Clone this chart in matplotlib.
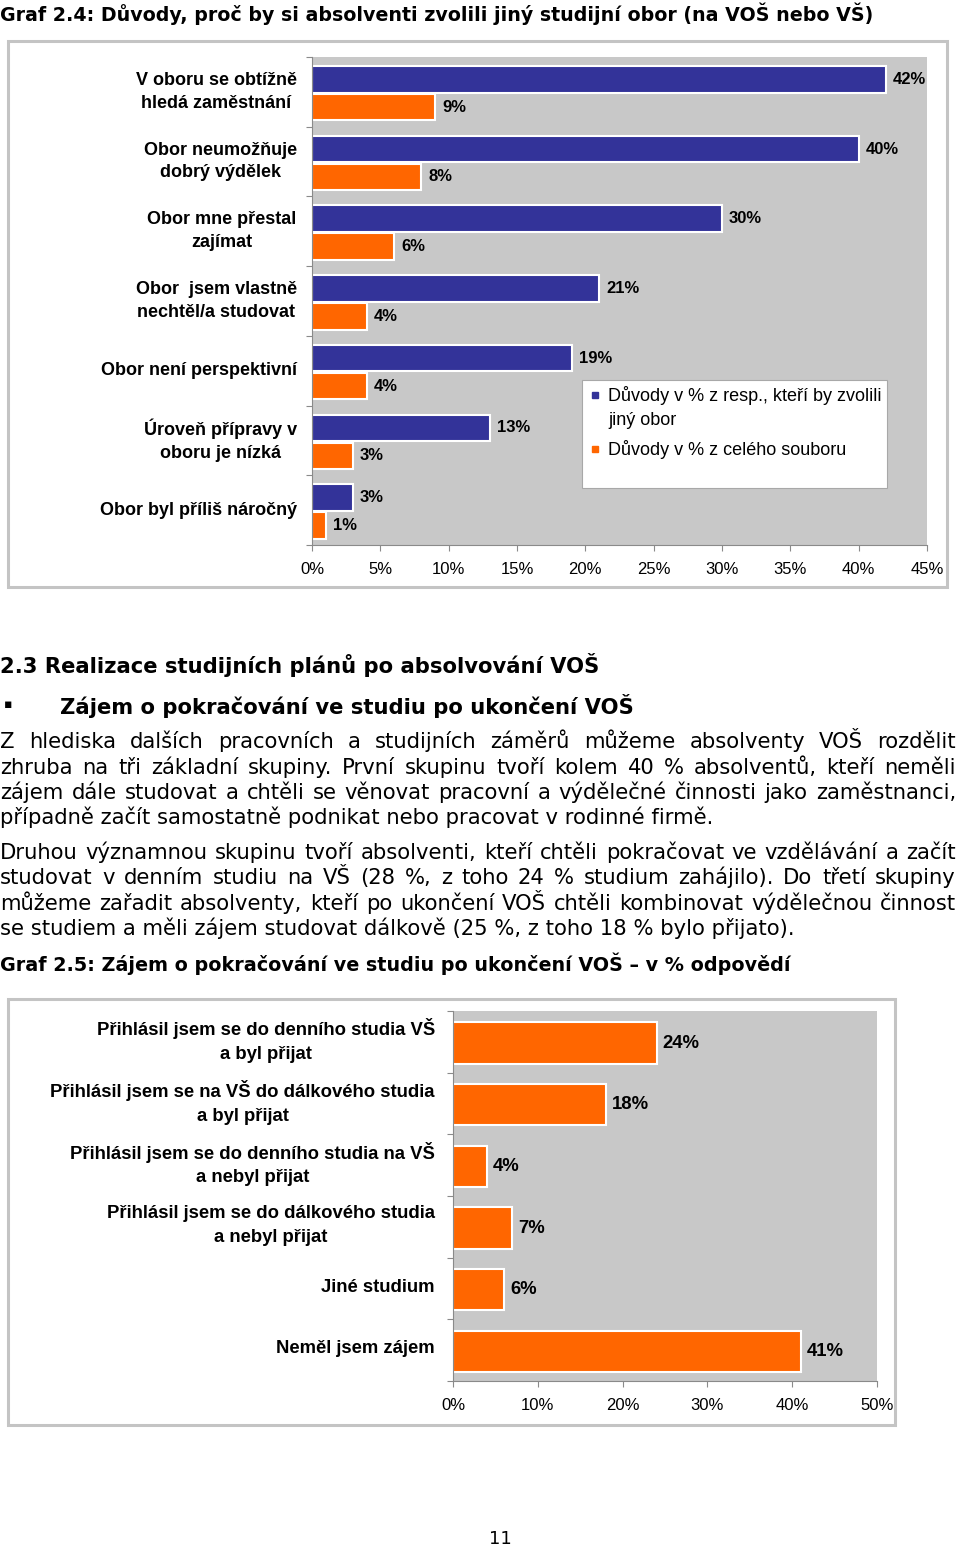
import numpy as np
import matplotlib
matplotlib.use('Agg')
import matplotlib.pyplot as plt
from matplotlib.patches import Rectangle
from matplotlib.lines import Line2D

# graf 2.4
reasons = ["V oboru se obtížně\nhledá zaměstnání", "Obor neumožňuje\ndobrý výdělek",
           "Obor mne přestal\nzajímat", "Obor  jsem vlastně\nnechtěl/a studovat",
           "Obor není perspektivní", "Úroveň přípravy v\noboru je nízká",
           "Obor byl příliš náročný"]
pct_resp = [42, 40, 30, 21, 19, 13, 3]
pct_all = [9, 8, 6, 4, 4, 3, 1]
legend_labels = ["Důvody v % z resp., kteří by zvolili\njiný obor", "Důvody v % z celého souboru"]
ticks1 = [0, 5, 10, 15, 20, 25, 30, 35, 40, 45]

# graf 2.5
plans = ["Přihlásil jsem se do denního studia VŠ\na byl přijat",
         "Přihlásil jsem se na VŠ do dálkového studia\na byl přijat",
         "Přihlásil jsem se do denního studia na VŠ\na nebyl přijat",
         "Přihlásil jsem se do dálkového studia\na nebyl přijat",
         "Jiné studium", "Neměl jsem zájem"]
pct_plans = [24, 18, 4, 7, 6, 41]
ticks2 = [0, 10, 20, 30, 40, 50]

title1 = "Graf 2.4: Důvody, proč by si absolventi zvolili jiný studijní obor (na VOŠ nebo VŠ)"
title2 = "Graf 2.5: Zájem o pokračování ve studiu po ukončení VOŠ – v % odpovědí"
head = "2.3 Realizace studijních plánů po absolvování VOŠ"
subhead = "Zájem o pokračování ve studiu po ukončení VOŠ"
para1 = ["Z hlediska dalších pracovních a studijních záměrů můžeme absolventy VOŠ rozdělit",
         "zhruba na tři základní skupiny. První skupinu tvoří kolem 40 % absolventů, kteří neměli",
         "zájem dále studovat a chtěli se věnovat pracovní a výdělečné činnosti jako zaměstnanci,",
         "případně začít samostatně podnikat nebo pracovat v rodinné firmě."]
para2 = ["Druhou významnou skupinu tvoří absolventi, kteří chtěli pokračovat ve vzdělávání a začít",
         "studovat v denním studiu na VŠ (28 %, z toho 24 % studium zahájilo). Do třetí skupiny",
         "můžeme zařadit absolventy, kteří po ukončení VOŠ chtěli kombinovat výdělečnou činnost",
         "se studiem a měli zájem studovat dálkově (25 %, z toho 18 % bylo přijato)."]

BLUE = '#333399'
ORANGE = '#ff6600'
BG = '#c8c8c8'
FRAME = '#c4c4c4'
AXC = '#8a8a8a'

plt.rcParams['font.family'] = ['Liberation Sans', 'DejaVu Sans']

W, H = 960, 1547
fig = plt.figure(figsize=(W / 100, H / 100), dpi=100)
r = fig.canvas.get_renderer()


def fx(x):
    return x / W


def fy(y):
    return 1 - y / H


def box(x0, y0, x1, y1, **kw):
    fig.patches.append(Rectangle((fx(x0), fy(y1)), (x1 - x0) / W, (y1 - y0) / H,
                                 transform=fig.transFigure, **kw))


def axes_px(x0, y0, x1, y1):
    return fig.add_axes([fx(x0), fy(y1), (x1 - x0) / W, (y1 - y0) / H])


def fit(x, y, s, width, size=12, **kw):
    t = fig.text(fx(x), fy(y), s, fontsize=size, va='baseline', family='DejaVu Sans', **kw)
    w = t.get_window_extent(r).width
    t.set_fontsize(size * width / w)
    return t


def justify(y, line, x0, x1, size):
    words = line.split()
    ts = [fig.text(0, fy(y), w, fontsize=size, va='baseline', family='DejaVu Sans') for w in words]
    ws = [t.get_window_extent(r).width for t in ts]
    gap = (x1 - x0 - sum(ws)) / (len(ws) - 1)
    x = x0
    for t, w in zip(ts, ws):
        t.set_x(fx(x))
        x += w + gap


def style(ax, ticks, n):
    ax.set_facecolor(BG)
    ax.set_xlim(ticks[0], ticks[-1])
    ax.set_xticks(ticks)
    ax.set_xticklabels([f'{v}%' for v in ticks], fontsize=12)
    ax.set_ylim(n, 0)
    ax.set_yticks(np.arange(n + 1))
    for s in ['top', 'right']:
        ax.spines[s].set_visible(False)
    for s in ['left', 'bottom']:
        ax.spines[s].set_color(AXC)
    ax.tick_params(axis='x', length=4, color=AXC, pad=8)
    ax.tick_params(axis='y', length=4, color=AXC, labelleft=False)


# ---- graf 2.4
fit(0, 21, title1, 868, weight='bold')
box(8, 41, 947, 587, fill=False, edgecolor=FRAME, linewidth=2.2)
ax1 = axes_px(312, 57, 927, 545)
style(ax1, ticks1, len(reasons))
idx = np.arange(len(reasons))
b1 = ax1.barh(idx + 0.32, pct_resp, height=0.38, color=BLUE, edgecolor='white', linewidth=1.5)
b2 = ax1.barh(idx + 0.72, pct_all, height=0.38, color=ORANGE, edgecolor='white', linewidth=1.5)
for b, vals in [(b1, pct_resp), (b2, pct_all)]:
    ax1.bar_label(b, labels=[f'{v}%' for v in vals], padding=5, fontsize=12, fontweight='bold')
for i, s in enumerate(reasons):
    ax1.annotate(s, xy=(0, i + 0.5), xytext=(-11, 0), textcoords='offset points',
                 ha='right', va='center', multialignment='center',
                 fontsize=13, fontweight='bold', linespacing=1.45)

# legend
box(582, 380, 887, 488, facecolor='white', edgecolor='#a8a8a8', linewidth=0.8)
ly = [401, 455]
for lab, col, y in zip(legend_labels, [BLUE, ORANGE], ly):
    fig.add_artist(Line2D([fx(595)], [fy(y - 6)], marker='s', markersize=4.5, color=col,
                          transform=fig.transFigure))
    for k, part in enumerate(lab.split('\n')):
        fig.text(fx(608), fy(y + 24 * k), part, fontsize=13, va='baseline')

# ---- text
fit(0, 673, head, 596, weight='bold')
fig.text(fx(4), fy(708), '▪', fontsize=9, va='baseline', family='DejaVu Sans')
fit(60, 714, subhead, 571, weight='bold')

last = fit(0, 824, para1[-1], 714)
body = last.get_fontsize()
for k, line in enumerate(para1[:-1]):
    justify(748.3 + 25.3 * k, line, 0, 956, body)
for k, line in enumerate(para2[:-1]):
    justify(859 + 25.3 * k, line, 0, 956, body)
fig.text(0, fy(859 + 25.3 * 3), para2[-1], fontsize=body, va='baseline', family='DejaVu Sans')

# ---- graf 2.5
fit(0, 971, title2, 786, weight='bold')
box(8, 999, 895, 1425, fill=False, edgecolor=FRAME, linewidth=2.2)
ax2 = axes_px(453, 1011, 877, 1381)
style(ax2, ticks2, len(plans))
idx2 = np.arange(len(plans))
b3 = ax2.barh(idx2 + 0.52, pct_plans, height=0.67, color=ORANGE, edgecolor='white', linewidth=1.5)
ax2.bar_label(b3, labels=[f'{v}%' for v in pct_plans], padding=4.5, fontsize=13.3, fontweight='bold')
for i, s in enumerate(plans):
    ax2.annotate(s, xy=(0, i + 0.48), xytext=(-13, 0), textcoords='offset points',
                 ha='right', va='center', multialignment='center',
                 fontsize=13.3, fontweight='bold', linespacing=1.5)

fig.text(fx(500), fy(1544), '11', fontsize=13, ha='center', va='baseline', family='DejaVu Sans')

fig.savefig('out.png', dpi=100)
